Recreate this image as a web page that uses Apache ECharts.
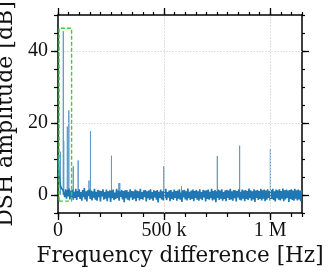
<!DOCTYPE html>
<html><head><meta charset="utf-8">
<script src="https://cdn.jsdelivr.net/npm/echarts@6/dist/echarts.min.js"></script>
<style>html,body{margin:0;padding:0;background:#fff}#c{width:333px;height:272px}</style>
</head><body><div id="c"></div>
<script>
// ---- data ----
const sampleStep = 4000; // Hz between noise-floor samples
const noiseDb = [
 11, 6.5, 4.0, 2.6, 1.9, 1.5, 1.3, 1.0, -0.6, 1.6, -1.0, 1.4, -0.4, 1.8, -1.2, 1.2, -0.7, 1.5, -1.3, 0.9,
 -0.8, 1.7, -1.4, 1.1, -0.5, 1.6, -1.1, 0.8, -1.6, 1.4, -0.6, 1.9, -1.2, 1.0, -1.8, 1.3, -0.3, 1.5, -1.1, 1.2,
 -1.5, 1.0, -0.7, 1.7, -1.3, 0.9, -1.6, 1.4, -0.6, 1.2, -1.8, 1.1, -0.4, 1.6, -1.3, 0.8, -1.0, 1.5, -1.7, 1.0,
 -0.7, 1.3, -1.9, 1.2, -0.9, 1.5, -1.4, 0.7, -1.1, 1.7, -0.8, 1.2, -1.6, 1.0, -0.5, 1.4, -1.2, 1.1, -2.0, 1.3,
 -0.9, 1.4, -1.3, 0.9, -1.5, 1.6, -0.7, 1.1, -1.4, 1.0, -1.0, 1.5, -1.7, 1.2, -0.8, 1.0, -1.5, 1.7, -1.1, 0.8,
 -1.3, 1.3, -0.6, 1.4, -1.8, 1.0, -0.9, 1.2, -1.4, 1.6, -1.0, 0.8, -1.6, 1.3, -0.7, 1.1, -1.3, 1.4, -2.1, 0.9,
 -0.8, 1.5, -1.2, 1.0, -1.5, 1.3, -0.9, 1.7, -1.4, 0.8, -0.7, 1.2, -1.7, 1.4, -1.1, 0.9, -1.4, 1.5, -0.8, 1.1,
 -1.6, 1.2, -1.0, 1.6, -1.3, 0.7, -1.9, 1.3, -0.7, 1.4, -1.2, 1.0, -1.5, 1.8, -0.9, 0.9, -1.4, 1.2, -1.1, 1.5,
 -1.7, 1.1, -0.8, 1.4, -1.3, 1.0, -1.6, 1.6, -1.0, 0.8, -1.4, 1.4, -0.7, 1.2, -1.8, 1.3, -1.1, 1.5, -1.3, 0.9,
 -0.9, 1.7, -1.5, 1.1, -1.2, 1.4, -2.0, 1.0, -0.8, 1.5, -1.4, 1.2, -1.0, 1.6, -1.6, 0.8, -1.1, 1.3, -1.7, 1.4,
 -0.8, 1.2, -1.4, 1.7, -1.2, 1.0, -1.6, 1.4, -0.9, 1.3, -1.8, 1.1, -0.7, 1.6, -1.3, 0.9, -1.5, 1.5, -1.0, 1.2,
 -1.7, 1.4, -1.1, 1.1, -1.4, 1.8, -0.9, 1.3, -1.6, 1.0, -1.2, 1.6, -1.9, 1.2, -0.8, 1.4, -1.4, 1.1, -1.1, 1.7,
 -1.5, 1.3, -1.0, 1.5, -1.7, 1.2, -1.3, 1.6, -0.8, 1.1, -1.6, 1.4, -1.1, 1.7, -1.4, 1.0, -1.8, 1.5, -0.9, 1.3,
 -1.3, 1.6, -1.5, 1.1, -1.0, 1.8, -1.7, 1.3, -1.2, 1.5, -0.8, 1.2, -1.9, 1.4, -1.1, 1.6, -1.4, 1.2, -1.6, 1.7,
 -1.0, 1.3, -1.5, 1.5, -1.2, 1.2, -1.7, 1.4
];
const spikeFreq = [11000, 25000, 27000, 44000, 51000, 72000, 95000, 146000, 153000, 252000, 287000, 291000, 499000, 582000, 751000, 856000, 1001000];
const spikeDb   = [12, 45.5, 15, 19, 23.5, 8, 9.6, 4, 17.7, 10.9, 3.3, 3.3, 8, 2.4, 10.8, 13.7, 12.9];
const spikeBaseDb = 0; // spikes rise from the noise floor
const xTickValues = [0, 500000, 1000000];
const xTickLabels = ['0', '500 k', '1 M'];
const yTickValues = [0, 20, 40];
const yTickLabels = ['0', '20', '40'];
const xGridValues = [500000, 1000000];
const yGridValues = [20, 40];
const zoomBoxX = [5000, 64000];
const zoomBoxY = [-1.7, 46.3];
const xRange = [0, 1150000];
const yRange = [-5, 50];

// ---- build series data ----
const pts = noiseDb.map((v, i) => [i * sampleStep, v]);
const spikeSeg = [];
spikeFreq.forEach((f, i) => { spikeSeg.push([f, spikeBaseDb], [f, spikeDb[i]], [f, spikeBaseDb], [f, null]); });
const boxPts = [
  [zoomBoxX[0], zoomBoxY[0]], [zoomBoxX[1], zoomBoxY[0]],
  [zoomBoxX[1], zoomBoxY[1]], [zoomBoxX[0], zoomBoxY[1]], [zoomBoxX[0], zoomBoxY[0]]
];

const tickFont = 'Liberation Serif';
const nameFont = 'DejaVu Serif';
const lineCol = '#000';

function xAx(pos, extra) {
  return Object.assign({
    type: 'value', position: pos, min: xRange[0], max: xRange[1],
    axisLine: { show: false, onZero: false },
    axisLabel: { show: false }, splitLine: { show: false }
  }, extra);
}
function yAx(pos, extra) {
  return Object.assign({
    type: 'value', position: pos, min: yRange[0], max: yRange[1],
    axisLine: { show: false, onZero: false },
    axisLabel: { show: false }, splitLine: { show: false }
  }, extra);
}

const chart = echarts.init(document.getElementById('c'), null, { renderer: 'canvas' });
chart.setOption({
  animation: false,
  backgroundColor: '#fff',
  grid: { left: 58, right: 31, top: 15, bottom: 59, containLabel: false, outerBoundsMode: 'none' },
  xAxis: [
    xAx('bottom', {
      axisLine: { show: true, onZero: false, lineStyle: { color: lineCol, width: 1.5 } },
      axisTick: { show: true, customValues: xTickValues, length: 7, lineStyle: { color: lineCol, width: 1.3 } },
      axisLabel: { show: true, customValues: xTickValues, margin: 8,
        formatter: v => xTickLabels[xTickValues.indexOf(v)],
        fontFamily: tickFont, fontSize: 20, color: '#111' },
      name: 'Frequency difference [Hz]', nameLocation: 'middle', nameGap: 31,
      nameTextStyle: { fontFamily: nameFont, fontSize: 21.5, color: '#111' }
    }),
    xAx('bottom', { interval: 100000, axisTick: { show: true, length: 4, lineStyle: { color: lineCol, width: 1.2 } } }),
    xAx('top', {
      axisLine: { show: true, onZero: false, lineStyle: { color: lineCol, width: 1.5 } },
      axisTick: { show: true, customValues: xTickValues, length: 7, lineStyle: { color: lineCol, width: 1.3 } }
    }),
    xAx('top', { interval: 50000, axisTick: { show: true, length: 3, lineStyle: { color: lineCol, width: 1.2 } } })
  ],
  yAxis: [
    yAx('left', {
      axisLine: { show: true, onZero: false, lineStyle: { color: lineCol, width: 1.5 } },
      axisTick: { show: true, customValues: yTickValues, length: 7, lineStyle: { color: lineCol, width: 1.3 } },
      axisLabel: { show: true, customValues: yTickValues, margin: 10,
        formatter: v => yTickLabels[yTickValues.indexOf(v)],
        fontFamily: tickFont, fontSize: 20, color: '#111' },
      name: 'DSH amplitude [dB]', nameLocation: 'middle', nameGap: 29, nameRotate: 90,
      nameTextStyle: { fontFamily: nameFont, fontSize: 22, color: '#111' }
    }),
    yAx('left', { interval: 5, axisTick: { show: true, length: 4, lineStyle: { color: lineCol, width: 1.2 } } }),
    yAx('right', {
      axisLine: { show: true, onZero: false, lineStyle: { color: lineCol, width: 1.5 } },
      axisTick: { show: true, customValues: yTickValues, length: 7, lineStyle: { color: lineCol, width: 1.3 } }
    }),
    yAx('right', { interval: 5, axisTick: { show: true, length: 3, lineStyle: { color: lineCol, width: 1.2 } } })
  ],
  series: [
    {
      type: 'line', data: [], xAxisIndex: 0, yAxisIndex: 0, z: 1, silent: true,
      markLine: {
        silent: true, symbol: 'none', label: { show: false }, animation: false,
        lineStyle: { color: '#d8d8d8', width: 0.8, type: [2, 1] },
        data: xGridValues.map(v => ({ xAxis: v })).concat(yGridValues.map(v => ({ yAxis: v })))
      }
    },
    {
      type: 'line', data: spikeSeg, xAxisIndex: 0, yAxisIndex: 0, z: 2,
      showSymbol: false, symbol: 'none', silent: true, connectNulls: false,
      lineStyle: { color: '#5c9bcb', width: 1 }
    },
    {
      type: 'line', data: pts, xAxisIndex: 0, yAxisIndex: 0, z: 3,
      showSymbol: false, symbol: 'none', silent: true,
      lineStyle: { color: '#1f77b4', width: 1.6, join: 'bevel' }
    },
    {
      type: 'line', data: boxPts, xAxisIndex: 0, yAxisIndex: 0, z: 5,
      showSymbol: false, symbol: 'none', silent: true,
      lineStyle: { color: '#3ccf3c', width: 1.4, type: [4, 2] }
    }
  ]
});
</script></body></html>
